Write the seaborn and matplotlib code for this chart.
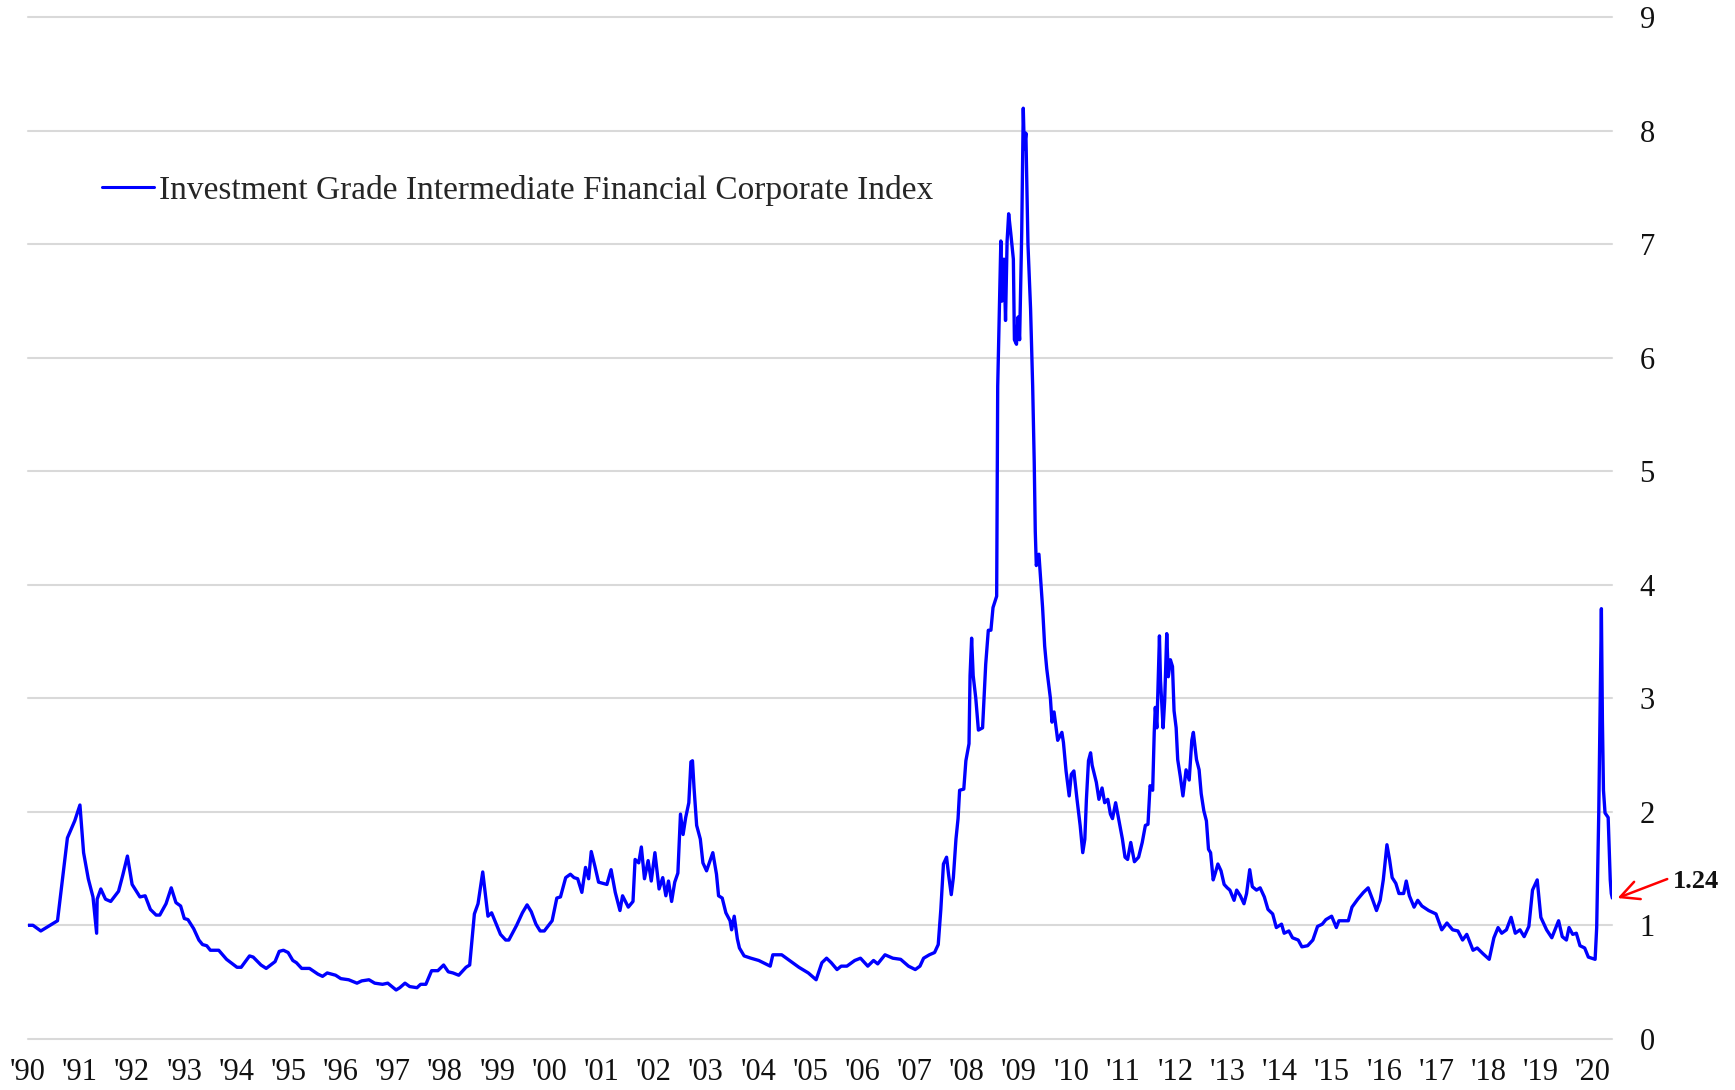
import pandas as pd
import numpy as np
import matplotlib
matplotlib.use("Agg")
import matplotlib.pyplot as plt
import seaborn as sns

# decimal-year dates and option-adjusted spread (%)
t_1990s = [1990.0, 1990.1, 1990.25, 1990.57, 1990.76, 1990.9, 1991.0, 1991.07, 1991.16, 1991.25,
           1991.32, 1991.33, 1991.4, 1991.49, 1991.59, 1991.74, 1991.82, 1991.91, 1992.0, 1992.15,
           1992.25, 1992.35, 1992.46, 1992.53, 1992.65, 1992.75, 1992.84, 1992.93, 1993.0, 1993.07,
           1993.18, 1993.28, 1993.35, 1993.43, 1993.5, 1993.66, 1993.81, 1994.01, 1994.09, 1994.25,
           1994.32, 1994.47, 1994.57, 1994.74, 1994.82, 1994.9, 1994.99, 1995.08, 1995.15, 1995.25,
           1995.4, 1995.56, 1995.65, 1995.74, 1995.9, 1996.0, 1996.15, 1996.31, 1996.4, 1996.54,
           1996.65, 1996.8, 1996.9, 1997.06, 1997.13, 1997.23, 1997.32, 1997.46, 1997.53, 1997.63,
           1997.74, 1997.86, 1997.97, 1998.06, 1998.15, 1998.26, 1998.4, 1998.47, 1998.56, 1998.63,
           1998.72, 1998.82, 1998.89, 1999.06, 1999.16, 1999.22, 1999.37, 1999.48, 1999.57, 1999.65,
           1999.74, 1999.82, 1999.9]
v_1990s = [1.0, 1.0, 0.95, 1.04, 1.77, 1.92, 2.06, 1.64, 1.41, 1.25,
           0.93, 1.23, 1.32, 1.23, 1.21, 1.30, 1.44, 1.61, 1.36, 1.25,
           1.26, 1.14, 1.09, 1.09, 1.19, 1.33, 1.20, 1.17, 1.06, 1.05,
           0.97, 0.87, 0.83, 0.82, 0.78, 0.78, 0.70, 0.63, 0.63, 0.73,
           0.72, 0.65, 0.62, 0.68, 0.77, 0.78, 0.76, 0.69, 0.67, 0.62,
           0.62, 0.57, 0.55, 0.58, 0.56, 0.53, 0.52, 0.49, 0.51, 0.52,
           0.49, 0.48, 0.49, 0.43, 0.45, 0.49, 0.46, 0.45, 0.48, 0.48,
           0.60, 0.60, 0.65, 0.59, 0.58, 0.56, 0.63, 0.65, 1.10, 1.19,
           1.47, 1.08, 1.11, 0.92, 0.87, 0.87, 1.00, 1.11, 1.18, 1.12,
           1.01, 0.95, 0.95]

t_2000s = [2000.05, 2000.14, 2000.21, 2000.31, 2000.4, 2000.47, 2000.54, 2000.62, 2000.69, 2000.75,
           2000.8, 2000.87, 2000.94, 2001.1, 2001.18, 2001.26, 2001.35, 2001.4, 2001.51, 2001.6,
           2001.64, 2001.71, 2001.76, 2001.82, 2001.89, 2001.95, 2002.02, 2002.1, 2002.17, 2002.23,
           2002.28, 2002.34, 2002.4, 2002.46, 2002.51, 2002.56, 2002.61, 2002.67, 2002.71, 2002.74,
           2002.77, 2002.82, 2002.89, 2002.94, 2003.01, 2003.13, 2003.2, 2003.24, 2003.31, 2003.38,
           2003.46, 2003.49, 2003.54, 2003.6, 2003.64, 2003.73, 2003.86, 2004.01, 2004.23, 2004.28,
           2004.45, 2004.6, 2004.78, 2004.96, 2005.11, 2005.22, 2005.31, 2005.4, 2005.51, 2005.59,
           2005.7, 2005.85, 2005.96, 2006.1, 2006.21, 2006.29, 2006.43, 2006.58, 2006.73, 2006.88,
           2007.01, 2007.1, 2007.17, 2007.28, 2007.38, 2007.45, 2007.5, 2007.55, 2007.61, 2007.65,
           2007.7, 2007.74, 2007.79, 2007.83, 2007.86, 2007.94, 2007.98, 2008.04, 2008.06, 2008.09,
           2008.12, 2008.17, 2008.22, 2008.3, 2008.36, 2008.41, 2008.46, 2008.5, 2008.57, 2008.58,
           2008.59, 2008.63, 2008.65, 2008.67, 2008.71, 2008.74, 2008.77, 2008.8, 2008.84, 2008.89,
           2008.91, 2008.95, 2008.98, 2009.01, 2009.05, 2009.08, 2009.1, 2009.13, 2009.17, 2009.22,
           2009.26, 2009.29, 2009.31, 2009.33, 2009.38, 2009.45, 2009.49, 2009.53, 2009.6, 2009.63,
           2009.67, 2009.7, 2009.74, 2009.82, 2009.85, 2009.9, 2009.96]
v_2000s = [1.04, 1.24, 1.25, 1.42, 1.45, 1.42, 1.41, 1.29, 1.51, 1.41,
           1.65, 1.52, 1.38, 1.36, 1.49, 1.29, 1.13, 1.26, 1.16, 1.21,
           1.58, 1.55, 1.69, 1.41, 1.57, 1.39, 1.64, 1.32, 1.42, 1.26,
           1.39, 1.21, 1.38, 1.46, 1.98, 1.80, 1.95, 2.08, 2.44, 2.45,
           2.21, 1.88, 1.76, 1.55, 1.48, 1.64, 1.45, 1.26, 1.24, 1.11,
           1.04, 0.96, 1.08, 0.88, 0.80, 0.73, 0.71, 0.69, 0.64, 0.74,
           0.74, 0.69, 0.63, 0.58, 0.52, 0.67, 0.71, 0.67, 0.61, 0.64,
           0.64, 0.69, 0.71, 0.64, 0.69, 0.66, 0.74, 0.71, 0.70, 0.64,
           0.61, 0.64, 0.71, 0.74, 0.76, 0.83, 1.14, 1.54, 1.60, 1.44,
           1.27, 1.42, 1.76, 1.94, 2.19, 2.20, 2.45, 2.60, 3.20, 3.53,
           3.20, 3.00, 2.72, 2.74, 3.30, 3.60, 3.60, 3.80, 3.90, 4.74,
           5.75, 6.60, 7.03, 6.50, 6.87, 6.33, 7.03, 7.27, 7.10, 6.87,
           6.16, 6.12, 6.36, 6.16, 7.10, 8.20, 7.84, 7.98, 7.00, 6.43,
           5.75, 5.08, 4.47, 4.17, 4.27, 3.80, 3.46, 3.26, 3.00, 2.79,
           2.88, 2.77, 2.63, 2.70, 2.61, 2.36, 2.14]

t_2010s = [2010.0, 2010.05, 2010.11, 2010.17, 2010.22, 2010.26, 2010.29, 2010.33, 2010.37, 2010.4,
           2010.48, 2010.53, 2010.59, 2010.64, 2010.7, 2010.75, 2010.79, 2010.85, 2010.92, 2010.98,
           2011.03, 2011.08, 2011.14, 2011.21, 2011.29, 2011.36, 2011.42, 2011.47, 2011.51, 2011.56,
           2011.59, 2011.61, 2011.64, 2011.69, 2011.71, 2011.76, 2011.79, 2011.83, 2011.86, 2011.9,
           2011.94, 2011.97, 2012.01, 2012.04, 2012.09, 2012.14, 2012.2, 2012.26, 2012.31, 2012.34,
           2012.4, 2012.45, 2012.49, 2012.54, 2012.59, 2012.63, 2012.67, 2012.72, 2012.76, 2012.81,
           2012.87, 2012.93, 2012.99, 2013.04, 2013.12, 2013.17, 2013.24, 2013.31, 2013.36, 2013.42,
           2013.47, 2013.55, 2013.62, 2013.7, 2013.77, 2013.86, 2013.93, 2014.03, 2014.08, 2014.17,
           2014.24, 2014.35, 2014.42, 2014.53, 2014.63, 2014.72, 2014.81, 2014.88, 2014.99, 2015.08,
           2015.13, 2015.31, 2015.38, 2015.49, 2015.6, 2015.69, 2015.78, 2015.85, 2015.92, 2015.98,
           2016.05, 2016.1, 2016.15, 2016.22, 2016.28, 2016.37, 2016.42, 2016.48, 2016.57, 2016.64,
           2016.72, 2016.85, 2016.99, 2017.1, 2017.2, 2017.31, 2017.41, 2017.5, 2017.58, 2017.7,
           2017.78, 2017.89, 2018.01, 2018.1, 2018.18, 2018.25, 2018.34, 2018.43, 2018.51, 2018.6,
           2018.68, 2018.77, 2018.84, 2018.93, 2019.0, 2019.11, 2019.21, 2019.34, 2019.41, 2019.49,
           2019.54, 2019.61, 2019.68, 2019.75, 2019.84, 2019.91, 2020.04, 2020.07, 2020.11, 2020.16,
           2020.18, 2020.2, 2020.23, 2020.29, 2020.33, 2020.35, 2020.37]
v_2010s = [2.33, 2.36, 2.11, 1.88, 1.64, 1.76, 2.11, 2.45, 2.52, 2.41,
           2.26, 2.11, 2.21, 2.08, 2.11, 1.98, 1.94, 2.08, 1.91, 1.76,
           1.60, 1.58, 1.73, 1.56, 1.60, 1.73, 1.88, 1.89, 2.23, 2.19,
           2.70, 2.92, 2.74, 3.55, 3.16, 2.74, 2.98, 3.57, 3.19, 3.34,
           3.28, 2.89, 2.74, 2.46, 2.31, 2.14, 2.37, 2.28, 2.63, 2.70,
           2.46, 2.37, 2.16, 2.01, 1.92, 1.67, 1.64, 1.40, 1.46, 1.54,
           1.48, 1.36, 1.33, 1.31, 1.22, 1.31, 1.26, 1.19, 1.28, 1.49,
           1.34, 1.31, 1.33, 1.25, 1.14, 1.10, 0.98, 1.01, 0.93, 0.95,
           0.89, 0.87, 0.81, 0.82, 0.87, 0.99, 1.01, 1.05, 1.08, 0.98,
           1.04, 1.04, 1.16, 1.23, 1.29, 1.33, 1.22, 1.13, 1.22, 1.40,
           1.71, 1.58, 1.42, 1.37, 1.28, 1.28, 1.39, 1.26, 1.16, 1.22,
           1.17, 1.13, 1.10, 0.96, 1.02, 0.96, 0.95, 0.87, 0.92, 0.78,
           0.80, 0.75, 0.70, 0.89, 0.98, 0.93, 0.96, 1.07, 0.93, 0.96,
           0.90, 0.99, 1.31, 1.40, 1.07, 0.96, 0.89, 1.04, 0.90, 0.87,
           0.98, 0.92, 0.93, 0.82, 0.80, 0.72, 0.70, 0.98, 2.00, 3.79,
           2.80, 2.19, 1.99, 1.95, 1.40, 1.28, 1.24]

year_ticks = list(range(1990, 2021))
year_labels = ["'" + str(y)[2:] for y in year_ticks]
last_label = "1.24"
series_name = "Investment Grade Intermediate Financial Corporate Index"

df = pd.DataFrame({
    "date": t_1990s + t_2000s + t_2010s,
    "spread": v_1990s + v_2000s + v_2010s,
})

sns.set_theme(style="white")
plt.rcParams["font.family"] = ["Liberation Serif", "DejaVu Serif"]

fig = plt.figure(figsize=(17.35, 10.9), dpi=100)
ax = fig.add_axes([0.016, 0.047, 0.913, 0.937])

sns.lineplot(data=df, x="date", y="spread", ax=ax, color="#0000ff", linewidth=2.4,
             estimator=None, sort=False, label=series_name)

ax.set_xlim(1990, 2020.36)
ax.set_ylim(0, 9)
ax.set_xticks(year_ticks)
ax.set_xticklabels(year_labels)
ax.set_yticks(range(10))
ax.yaxis.tick_right()
ax.tick_params(axis="x", length=0, pad=14, labelsize=22, colors="#111111")
ax.tick_params(axis="y", length=0, pad=20, labelsize=22, colors="#111111")
ax.grid(axis="y", color="#d9d9d9", linewidth=1.5)
ax.grid(axis="x", visible=False)
for g in ax.get_ygridlines():
    g.set_clip_on(False)
for s in ax.spines.values():
    s.set_visible(False)
ax.set_xlabel("")
ax.set_ylabel("")

leg = ax.legend(loc="center left", bbox_to_anchor=(0.047, 0.831), frameon=False,
                fontsize=24, handlelength=1.55, handletextpad=0.15, borderpad=0,
                borderaxespad=0)
for h in leg.get_lines():
    h.set_linewidth(2.2)

ax.annotate(last_label, xy=(df["date"].iloc[-1] + 0.1, df["spread"].iloc[-1]),
            xytext=(40, 12), textcoords="offset points", ha="left", va="center",
            fontsize=19, fontweight="bold", color="#111111", annotation_clip=False,
            arrowprops=dict(arrowstyle="->,head_length=0.7,head_width=0.35", color="red",
                            lw=1.8, relpos=(0, 0.7), shrinkA=2, shrinkB=0))

fig.savefig("out.png", dpi=100)
